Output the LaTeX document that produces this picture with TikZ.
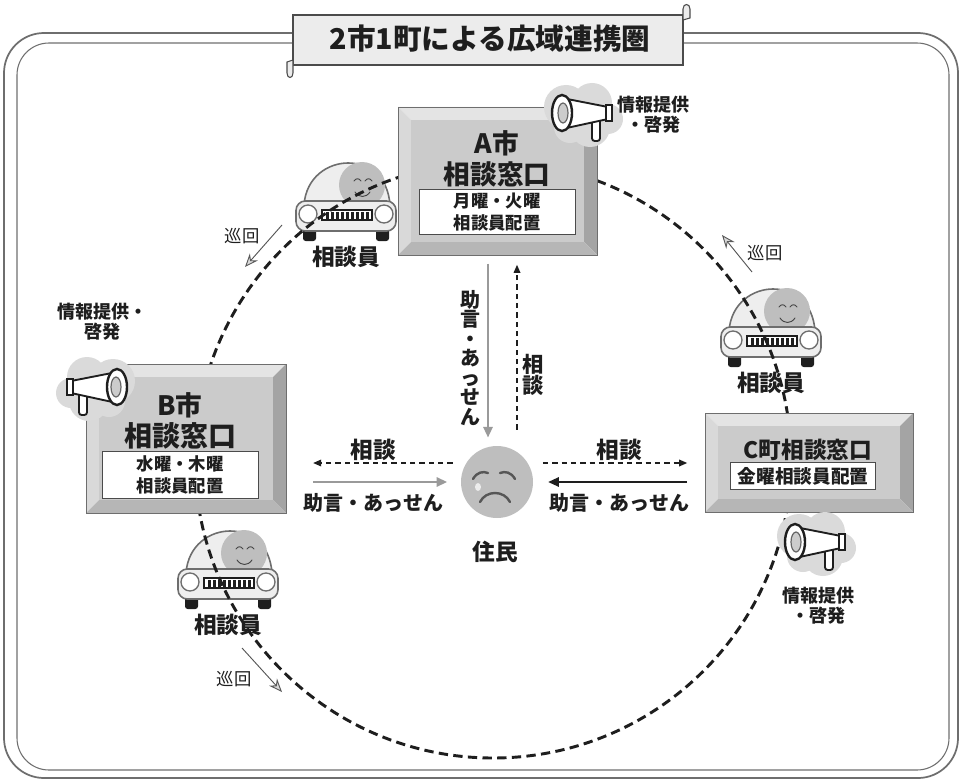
\documentclass[tikz,border=0pt]{standalone}
\usepackage{fontspec}
\setmainfont{Noto Sans CJK JP}
\usepackage{tikz}
\usetikzlibrary{arrows.meta,positioning,fit}

\definecolor{ink}{HTML}{1E1E1E}
\definecolor{facegray}{HTML}{CBCBCB}
\definecolor{bevtop}{HTML}{E4E4E4}
\definecolor{bevleft}{HTML}{D9D9D9}
\definecolor{bevright}{HTML}{A4A4A4}
\definecolor{bevbottom}{HTML}{B6B6B6}
\definecolor{edgegray}{HTML}{6E6E6E}
\definecolor{cloudgray}{HTML}{DADADA}
\definecolor{advgray}{HTML}{9A9A9A}
\definecolor{skin}{HTML}{BEBEBE}
\definecolor{carbody}{HTML}{EEEEEE}

% bevelled counter box: name, x1, y1, x2, y2
\newcommand\bevw{13}
\newcommand\bevelbox[5]{%
  \fill[bevtop] (#2,#3) -- (#4,#3) -- (#4-\bevw,#3+\bevw) -- (#2+\bevw,#3+\bevw) -- cycle;
  \fill[bevleft] (#2,#3) -- (#2+\bevw,#3+\bevw) -- (#2+\bevw,#5-\bevw) -- (#2,#5) -- cycle;
  \fill[bevright] (#4,#3) -- (#4,#5) -- (#4-\bevw,#5-\bevw) -- (#4-\bevw,#3+\bevw) -- cycle;
  \fill[bevbottom] (#2,#5) -- (#4,#5) -- (#4-\bevw,#5-\bevw) -- (#2+\bevw,#5-\bevw) -- cycle;
  \fill[facegray] (#2+\bevw,#3+\bevw) rectangle (#4-\bevw,#5-\bevw);
  \draw[edgegray, line width=0.6pt] (#2,#3) rectangle (#4,#5);
  \node[fit={(#2,#3) (#4,#5)}, inner sep=0pt] (#1) {};
}

\tikzset{
  every picture/.style={line width=0.75pt},
  frame/.style={draw=edgegray, line width=1.3pt},
  titlebox/.style={draw=ink!80, fill=gray!15, line width=0.8pt},
  boxbig/.style={font=\fontsize{20}{22}\selectfont\bfseries, text=ink, inner sep=0pt},
  boxsmall/.style={draw=ink!80, fill=white, line width=0.7pt, align=center, inner sep=0pt,
    font=\fontsize{13}{16}\selectfont\bfseries, text=ink},
  staff/.style={font=\fontsize{17}{19}\selectfont\bfseries, text=ink, inner sep=1pt},
  info/.style={font=\fontsize{13.5}{15}\selectfont\bfseries, text=ink, align=center, inner sep=0pt},
  armlabel/.style={font=\fontsize{15}{17}\selectfont\bfseries, text=ink},
  vtext/.style={font=\fontsize{15}{14.6}\selectfont\bfseries, text=ink, align=center, inner sep=0pt},
  tourlabel/.style={font=\fontsize{13}{15}\selectfont, text=ink, inner sep=0pt},
  route/.style={draw=ink, line width=2.2pt, dash pattern=on 7pt off 4pt},
  advice/.style={draw=advgray, line width=1.6pt, -{Triangle[length=8pt,width=7pt]}},
  consult/.style={draw=ink, line width=0.9pt, dash pattern=on 4pt off 3pt, -{Triangle[length=6pt,width=5pt]}},
  tour/.style={draw=ink!75, line width=0.7pt,
    -{Stealth[length=10pt,width=8pt,fill=gray!30,color=gray!70!black]}},
  smile/.style={draw=gray!55!black, line width=0.7pt, line cap=round},
  car/.pic={
    % wheels
    \fill[ink, rounded corners=2pt] (-43,24) rectangle (-30,42);
    \fill[ink, rounded corners=2pt] (30,24) rectangle (43,42);
    % cabin
    \draw[edgegray, line width=1.2pt, fill=carbody] (-42,6) .. controls (-40,-22) and (-18,-36) .. (2,-36) .. controls (24,-36) and (42,-22) .. (44,6) -- cycle;
    % driver
    \fill[skin] (16,-14) circle (23);
    \draw[smile] (8,-18) .. controls (10,-21) and (13,-21) .. (15,-18);
    \draw[smile] (19,-18) .. controls (21,-21) and (24,-21) .. (26,-18);
    \draw[smile] (9,-7) .. controls (13,-1) and (20,-1) .. (24,-7);
    % body
    \draw[edgegray, line width=1.2pt, fill=carbody, rounded corners=7pt] (-50,2) rectangle (50,32);
    % headlights
    \draw[edgegray, line width=1pt, fill=white] (-38,15) circle (9);
    \draw[edgegray, line width=1pt, fill=white] (38,15) circle (9);
    % grille
    \draw[ink, fill=white, line width=0.8pt] (-24,11) rectangle (26,21);
    \foreach \g in {-19,-14,...,21}
      \fill[ink] (\g-1.5,12.5) rectangle (\g+1.5,19.5);
  },
  megaphone/.pic={
    \fill[cloudgray] (4,-6) circle (22) (30,-10) circle (20) (28,14) circle (20)
      (46,6) circle (15) (8,14) circle (16);
    % handle
    \draw[ink, line width=1.4pt, fill=white, rounded corners=2pt] (30,2) rectangle (38,28);
    % horn
    \draw[ink, line width=1.4pt, fill=white] (0,-15) -- (46,-6) -- (46,6) -- (0,16) -- cycle;
    \draw[ink, line width=1.2pt, fill=white] (44,-8) rectangle (50,8);
    % mouth
    \draw[ink, line width=1.8pt, fill=white] (0,0) ellipse (10 and 18);
    \draw[gray!80!black, line width=0.9pt, fill=gray!40] (1,0) ellipse (5 and 10);
  },
}

\begin{document}
\begin{tikzpicture}[x=0.75pt,y=0.75pt,yscale=-1,xscale=1]
\useasboundingbox (0,0) rectangle (963,781);

% outer frame
\draw[frame, rounded corners=30pt] (4,33) rectangle (958,778);
\draw[frame, line width=0.8pt, rounded corners=24pt] (17,43) rectangle (949,770);

% title scroll
\draw[titlebox] (293,15) rectangle (683,65);
\draw[titlebox] (293,60) -- (293,73) .. controls (293,79) and (287,79) .. (287,73) -- (287,62) -- cycle;
\draw[titlebox] (683,20) -- (683,9) .. controls (683,3) and (690,3) .. (690,9) -- (690,18) -- cycle;
\node[font=\fontsize{21.5}{24}\selectfont\bfseries, text=ink] (title) at (490,39) {2市1町による広域連携圏};

% counsellors on the round
\coordinate (carA) at (346,199);
\coordinate (carC) at (771,325);
\coordinate (carB) at (228,567);
\pic[transform shape] at (carA) {car};
\pic[transform shape] at (carC) {car};
\pic[transform shape] at (carB) {car};
\node[staff, below=34pt of carA] (staffA) {相談員};
\node[staff, below=34pt of carC] (staffC) {相談員};
\node[staff, below=34pt of carB] (staffB) {相談員};

% round route
\draw[route] (493,460) circle (298);

% counters
\bevelbox{Abox}{398}{107}{597}{255}
\node[boxbig] (Aname) at (497,143) {A市};
\node[boxbig] (Adesk) at (497,174) {相談窓口};
\node[boxsmall, minimum width=117pt, minimum height=34pt] (Adays) at (497,212) {月曜・火曜\\相談員配置};

\bevelbox{Bbox}{86}{364}{286}{513}
\node[boxbig] (Bname) at (180,405) {B市};
\node[boxbig, font=\fontsize{21}{23}\selectfont\bfseries] (Bdesk) at (180,436) {相談窓口};
\node[boxsmall, minimum width=117pt, minimum height=35pt] (Bdays) at (180,475) {水曜・木曜\\相談員配置};

\bevelbox{Cbox}{705}{413}{913}{512}
\node[boxbig, font=\fontsize{17}{19}\selectfont\bfseries] (Cdesk) at (808,450) {C町相談窓口};
\node[boxsmall, font=\fontsize{14}{16}\selectfont\bfseries, minimum width=109pt, minimum height=20pt] (Cdays) at (803,476) {金曜相談員配置};

% megaphones
\pic[transform shape] at (562,113) {megaphone};
\pic[transform shape, xscale=-1] at (117,387) {megaphone};
\pic[transform shape] at (795,542) {megaphone};
\node[info] (infoA) at (653,115) {情報提供\\・啓発};
\node[info] (infoB) at (102,322) {情報提供・\\啓発};
\node[info] (infoC) at (818,606) {情報提供\\・啓発};

% resident
\node[circle, fill=skin, minimum size=54pt, inner sep=0pt] (face) at (497,482) {};
\draw[ink!75, line width=1.8pt, line cap=round] (473,479) .. controls (477,472) and (483,471) .. (488,473);
\draw[ink!75, line width=1.8pt, line cap=round] (500,473) .. controls (505,471) and (511,472) .. (515,479);
\draw[ink!75, line width=1.8pt, line cap=round] (480,502) .. controls (486,490) and (504,490) .. (510,502);
\fill[white!85!gray] (478,487) ellipse (3 and 4);
\node[staff] (resident) at (495,552) {住民};

% links between the counters and the resident
\coordinate (colAdv) at (488,0);
\coordinate (colCon) at (517,0);
\coordinate (rowCon) at (0,463);
\coordinate (rowAdv) at (0,482);
\draw[advice, shorten <=6pt, shorten >=6pt] (Abox.south -| colAdv) -- (face.north -| colAdv);
\draw[consult, shorten <=12pt, shorten >=7pt] (face.north -| colCon) -- (Abox.south -| colCon);
\node[vtext] (advA) at (470,358) {助\\言\\・\\あ\\っ\\せ\\ん};
\node[vtext, font=\fontsize{16}{16}\selectfont\bfseries] (conA) at (533,375) {相\\談};

\draw[consult, shorten <=6pt, shorten >=20pt] (face.west |- rowCon) -- (Bbox.east |- rowCon)
  node[midway, above=1pt, armlabel, font=\fontsize{17}{19}\selectfont\bfseries, inner sep=0pt] (conB) {相談};
\draw[advice, shorten <=20pt, shorten >=10pt] (Bbox.east |- rowAdv) -- (face.west |- rowAdv)
  node[midway, below=8pt, armlabel, inner sep=0pt] (advB) {助言・あっせん};

\draw[consult, shorten <=7pt, shorten >=13pt] (face.east |- rowCon) -- (Cbox.west |- rowCon)
  node[midway, above=1pt, armlabel, font=\fontsize{17}{19}\selectfont\bfseries, inner sep=0pt] (conC) {相談};
\draw[advice, draw=ink, line width=1.3pt, shorten <=13pt, shorten >=11pt] (Cbox.west |- rowAdv) -- (face.east |- rowAdv)
  node[midway, below=8pt, armlabel, inner sep=0pt] (advC) {助言・あっせん};

% rounds
\coordinate (tourA1) at (282,225);
\coordinate (tourA2) at (245,267);
\coordinate (tourC1) at (752,272);
\coordinate (tourC2) at (722,235);
\coordinate (tourB1) at (242,648);
\coordinate (tourB2) at (282,692);
\draw[tour] (tourA1) -- (tourA2);
\draw[tour] (tourC1) -- (tourC2);
\draw[tour] (tourB1) -- (tourB2);
\node[tourlabel] (roundA) at (242,236) {巡回};
\node[tourlabel] (roundC) at (765,253) {巡回};
\node[tourlabel] (roundB) at (234,679) {巡回};

\end{tikzpicture}
\end{document}
